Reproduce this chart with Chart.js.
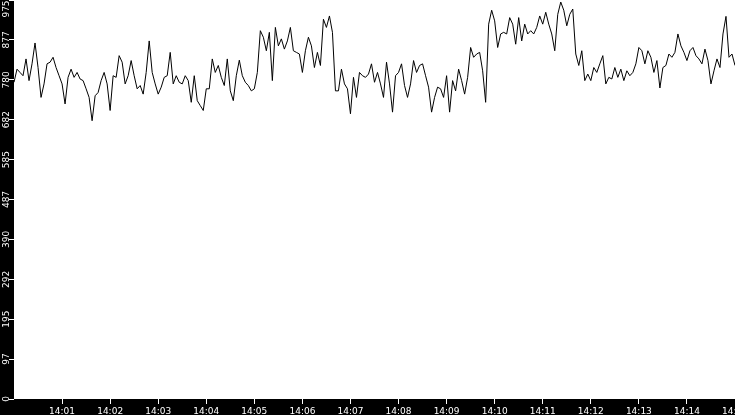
<!DOCTYPE html>
<html>
<head>
<meta charset="utf-8">
<script src="https://cdn.jsdelivr.net/npm/chart.js@4/dist/chart.umd.min.js"></script>
<style>
  html, body { margin: 0; padding: 0; background: #000; }
  #chart { display: block; background: #000; }
</style>
</head>
<body>
<canvas id="chart" width="735" height="415"></canvas>
<script>
// seconds after 14:00:00, one reading every 3.75 s
const startHour = 14;
const sampleStep = 3.75;

// readings in six blocks of ~3 minutes
const block1 = [774,806,798,790,831,778,819,870,810,737,770,819,823,835,810,790,770,721,786,806,786,798,782,778,758,737,680,741,749,778,798,770,705,790,786,839,823,770,790,827];
const block2 = [790,758,766,745,798,875,798,770,745,762,786,790,847,770,790,774,770,790,778,725,790,729,717,705,758,758,831,798,815,786,766,831,753,729,790,828,790,774,766,753];
const block3 = [758,798,900,884,851,896,778,908,863,880,855,875,908,851,847,843,798,851,884,863,810,847,815,928,908,936,896,753,753,806,770,758,697,786,737,798,790,786,794,819];
const block4 = [774,798,770,737,823,770,701,790,798,819,766,737,770,827,798,815,819,790,762,701,737,762,758,737,790,701,778,753,806,778,745,786,859,835,843,847,802,725,916,950];
const block5 = [924,859,892,896,892,932,916,867,932,875,916,892,900,892,908,936,916,945,916,892,851,940,970,950,912,940,953,843,815,851,778,794,778,810,798,819,839,770,786,782];
const block6 = [810,786,806,778,802,790,798,819,859,851,819,851,835,798,827,760,810,815,843,835,847,892,863,847,827,851,859,839,831,819,855,827,770,802,831,810,892,935,835,843,815];

const values = [...block1, ...block2, ...block3, ...block4, ...block5, ...block6];

// axis settings
const yMax = 975;
const yStep = 97.5;
const xMax = 900;
const xStep = 60;

const points = values.map((v, i) => ({ x: i * sampleStep, y: v }));

// white plot area on black background
const plotBackground = {
  id: 'plotBackground',
  beforeDraw(chart) {
    const { ctx, chartArea } = chart;
    ctx.save();
    ctx.fillStyle = '#fff';
    ctx.fillRect(chartArea.left, chartArea.top, chartArea.right - chartArea.left, chartArea.bottom - chartArea.top);
    ctx.restore();

    // keep the top y label inside the canvas
    const items = chart.scales.y.getLabelItems(chartArea);
    items.forEach((it) => {
      const tr = it.options.translation;
      if (tr[1] < 9) tr[1] = 9;
    });
  }
};

const tickFont = { family: 'DejaVu Sans', size: 9 };

new Chart(document.getElementById('chart'), {
  type: 'line',
  data: {
    datasets: [{
      data: points,
      borderColor: '#000',
      borderWidth: 1,
      pointRadius: 0,
      tension: 0,
      fill: false
    }]
  },
  options: {
    responsive: false,
    animation: false,
    devicePixelRatio: 1,
    layout: { padding: 0 },
    plugins: {
      legend: { display: false },
      tooltip: { enabled: false }
    },
    scales: {
      x: {
        type: 'linear',
        min: 0,
        max: xMax,
        grid: { drawOnChartArea: false, color: '#fff', tickLength: 5 },
        border: { display: false },
        ticks: {
          stepSize: xStep,
          color: '#fff',
          font: tickFont,
          padding: 2,
          maxRotation: 0,
          autoSkip: false,
          callback: (v) => {
            if (v === 0) return undefined;
            const m = Math.round(v / 60);
            return startHour + ':' + String(m).padStart(2, '0');
          }
        },
        afterFit: (scale) => {
          scale.height = 16;
          scale.paddingLeft = 0;
          scale.paddingRight = 0;
        }
      },
      y: {
        min: 0,
        max: yMax,
        grid: { drawOnChartArea: false, color: '#fff', tickLength: 5 },
        border: { display: false },
        ticks: {
          stepSize: yStep,
          color: '#fff',
          font: tickFont,
          minRotation: 90,
          maxRotation: 90,
          crossAlign: 'center',
          padding: -6,
          autoSkip: false,
          callback: (v) => Math.floor(v + 1e-6)
        },
        afterFit: (scale) => {
          scale.width = 14;
          scale.paddingTop = 0;
          scale.paddingBottom = 0;
        }
      }
    }
  },
  plugins: [plotBackground]
});
</script>
</body>
</html>
